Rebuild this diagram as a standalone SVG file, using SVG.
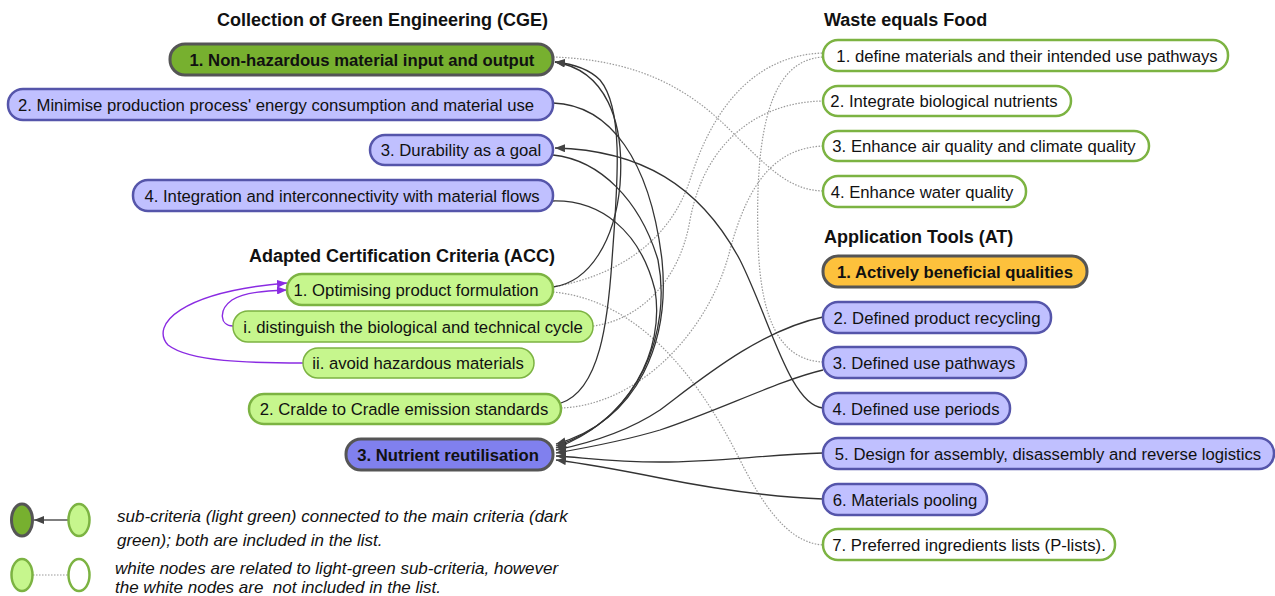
<svg xmlns="http://www.w3.org/2000/svg" width="1275" height="596" viewBox="0 0 1275 596">
<defs>
<style>
text{font-family:"Liberation Sans",Arial,sans-serif;font-size:16.7px;fill:#111}
.h{font-weight:bold;font-size:18px}
.b{font-weight:bold}
.c{text-anchor:middle}
.it{font-style:italic;font-size:17px;white-space:pre}
.main{fill:#77b02f;stroke:#555;stroke-width:3}
.blue{fill:#c0c0ff;stroke:#5555aa;stroke-width:2.5}
.dblue{fill:#8080ee;stroke:#555;stroke-width:3}
.lg{fill:#c6f68d;stroke:#7cb342;stroke-width:2.5}
.wh{fill:#fff;stroke:#7cb342;stroke-width:2.5}
.or{fill:#fdc13c;stroke:#555;stroke-width:3}
.e{fill:none;stroke:#333;stroke-width:1.3;marker-end:url(#ah)}
.p{fill:none;stroke:#8a2be2;stroke-width:1.4;marker-end:url(#ap)}
.d{fill:none;stroke:#999;stroke-width:1.2;stroke-dasharray:1.5 1.5}
</style>
<marker id="ah" viewBox="0 0 10 8" refX="10" refY="4" markerWidth="10" markerHeight="8" markerUnits="userSpaceOnUse" orient="auto"><path d="M0,0L10,4L0,8z" fill="#444"/></marker>
<marker id="ap" viewBox="0 0 10 8" refX="10" refY="4" markerWidth="10" markerHeight="8" markerUnits="userSpaceOnUse" orient="auto"><path d="M0,0L10,4L0,8z" fill="#8a2be2"/></marker>
</defs>

<g id="connectors">
<path class="d" d="M553,57 C640,60 690,90 730,130 C770,170 790,190 823,191"/>
<path class="d" d="M553,287 C620,275 670,240 690,180 C715,100 760,55 823,53"/>
<path class="d" d="M593,326 C640,320 680,280 690,220 C705,140 760,102 823,101"/>
<path class="d" d="M561,408 C640,405 710,330 730,250 C750,175 780,148 823,146"/>
<path class="d" d="M823,362 C780,360 760,320 758,240 C755,130 770,60 823,57"/>
<path class="d" d="M553,292 C640,300 700,380 740,460 C770,520 795,543 823,545"/>

<path class="e" d="M553,287 C590,282 615,240 620,185 C625,120 605,70 555,62"/>
<path class="e" d="M561,403 C600,390 608,320 612,260 C617,190 625,110 600,80 C590,70 575,64 555,62"/>
<path class="e" d="M823,408 C790,405 770,320 740,260 C700,185 640,150 555,148"/>
<path class="e" d="M553,103 C610,105 650,160 662,260 C670,340 640,420 556,444"/>
<path class="e" d="M553,155 C600,160 640,200 658,260 C672,330 640,420 556,446"/>
<path class="e" d="M553,201 C600,200 640,230 655,290 C665,350 630,420 556,448"/>
<path class="e" d="M823,317 C760,330 700,380 660,410 C630,430 590,443 556,450"/>
<path class="e" d="M823,370 C780,380 720,410 660,430 C620,442 585,448 556,453"/>
<path class="e" d="M823,453 C760,455 720,462 660,462 C610,462 580,457 556,456"/>
<path class="e" d="M823,499 C770,497 720,490 660,478 C610,468 580,463 556,460"/>

<path class="p" d="M233,326 C220,326 218,310 232,300 C245,292 265,291 287,290"/>
<path class="p" d="M303,363 C250,363 190,362 168,345 C150,325 180,292 287,283"/>
</g>

<g id="headings">
<text class="h" x="548" y="26" text-anchor="end">Collection of Green Engineering (CGE)</text>
<text class="h" x="555" y="262" text-anchor="end">Adapted Certification Criteria (ACC)</text>
<text class="h" x="824" y="26">Waste equals Food</text>
<text class="h" x="824" y="243">Application Tools (AT)</text>
</g>

<g id="cge1"><rect class="main" x="170" y="44" width="383" height="31" rx="15"/><text class="b c" x="362" y="65.5">1. Non-hazardous material input and output</text></g>
<g id="cge2"><rect class="blue" x="8" y="89" width="545" height="31" rx="15"/><text class="c" x="276" y="110.5">2. Minimise production process' energy consumption and material use</text></g>
<g id="cge3"><rect class="blue" x="370" y="135" width="183" height="30" rx="15"/><text class="c" x="461" y="156">3. Durability as a goal</text></g>
<g id="cge4"><rect class="blue" x="133" y="180" width="420" height="31" rx="15"/><text class="c" x="342" y="201.5">4. Integration and interconnectivity with material flows</text></g>

<g id="acc1"><rect class="lg" x="287" y="274" width="266" height="31" rx="15"/><text class="c" x="416" y="295.5">1. Optimising product formulation</text></g>
<g id="acci"><rect class="lg" x="233" y="311" width="360" height="31" rx="15" style="stroke-width:1.5"/><text class="c" x="413" y="332.5">i. distinguish the biological and technical cycle</text></g>
<g id="accii"><rect class="lg" x="303" y="348" width="231" height="30" rx="15" style="stroke-width:1.5"/><text class="c" x="418" y="369">ii. avoid hazardous materials</text></g>
<g id="acc2"><rect class="lg" x="249" y="394" width="312" height="30" rx="15"/><text class="c" x="404" y="415">2. Cralde to Cradle emission standards</text></g>
<g id="acc3"><rect class="dblue" x="346" y="439" width="207" height="31" rx="15"/><text class="b c" x="448" y="460.5">3. Nutrient reutilisation</text></g>

<g id="wef1"><rect class="wh" x="823" y="40" width="405" height="31" rx="15"/><text class="c" x="1027" y="61.5">1. define materials and their intended use pathways</text></g>
<g id="wef2"><rect class="wh" x="823" y="86" width="248" height="30" rx="15"/><text class="c" x="944" y="107">2. Integrate biological nutrients</text></g>
<g id="wef3"><rect class="wh" x="823" y="131" width="326" height="30" rx="15"/><text class="c" x="984" y="152">3. Enhance air quality and climate quality</text></g>
<g id="wef4"><rect class="wh" x="823" y="176" width="203" height="31" rx="15"/><text class="c" x="922" y="197.5">4. Enhance water quality</text></g>

<g id="at1"><rect class="or" x="823" y="256" width="264" height="31" rx="15"/><text class="b c" x="955" y="277.5">1. Actively beneficial qualities</text></g>
<g id="at2"><rect class="blue" x="823" y="302" width="228" height="31" rx="15"/><text class="c" x="937" y="323.5">2. Defined product recycling</text></g>
<g id="at3"><rect class="blue" x="823" y="347" width="203" height="31" rx="15"/><text class="c" x="924" y="368.5">3. Defined use pathways</text></g>
<g id="at4"><rect class="blue" x="823" y="393" width="187" height="31" rx="15"/><text class="c" x="916" y="414.5">4. Defined use periods</text></g>
<g id="at5"><rect class="blue" x="823" y="438" width="451" height="31" rx="15"/><text class="c" x="1048" y="459.5">5. Design for assembly, disassembly and reverse logistics</text></g>
<g id="at6"><rect class="blue" x="823" y="484" width="164" height="31" rx="15"/><text class="c" x="905" y="505.5">6. Materials pooling</text></g>
<g id="at7"><rect class="wh" x="823" y="529" width="292" height="31" rx="15"/><text class="c" x="969" y="550.5">7. Preferred ingredients lists (P-lists).</text></g>

<g id="legend">
<line x1="68" y1="520" x2="34" y2="520" stroke="#555" stroke-width="1.5" marker-end="url(#ah)"/>
<ellipse class="main" cx="22" cy="520" rx="10.5" ry="16"/>
<ellipse class="lg" cx="79" cy="520" rx="10.5" ry="16"/>
<line x1="33" y1="575" x2="68" y2="575" class="d"/>
<ellipse class="lg" cx="22" cy="575" rx="10.5" ry="16"/>
<ellipse class="wh" cx="79" cy="575" rx="10.5" ry="16"/>
<text class="it" x="117" y="522">sub-criteria (light green) connected to the main criteria (dark</text>
<text class="it" x="117" y="546">green); both are included in the list.</text>
<text class="it" x="115" y="574">white nodes are related to light-green sub-criteria, however</text>
<text class="it" x="115" y="593">the white nodes are  not included in the list.</text>
</g>
</svg>
